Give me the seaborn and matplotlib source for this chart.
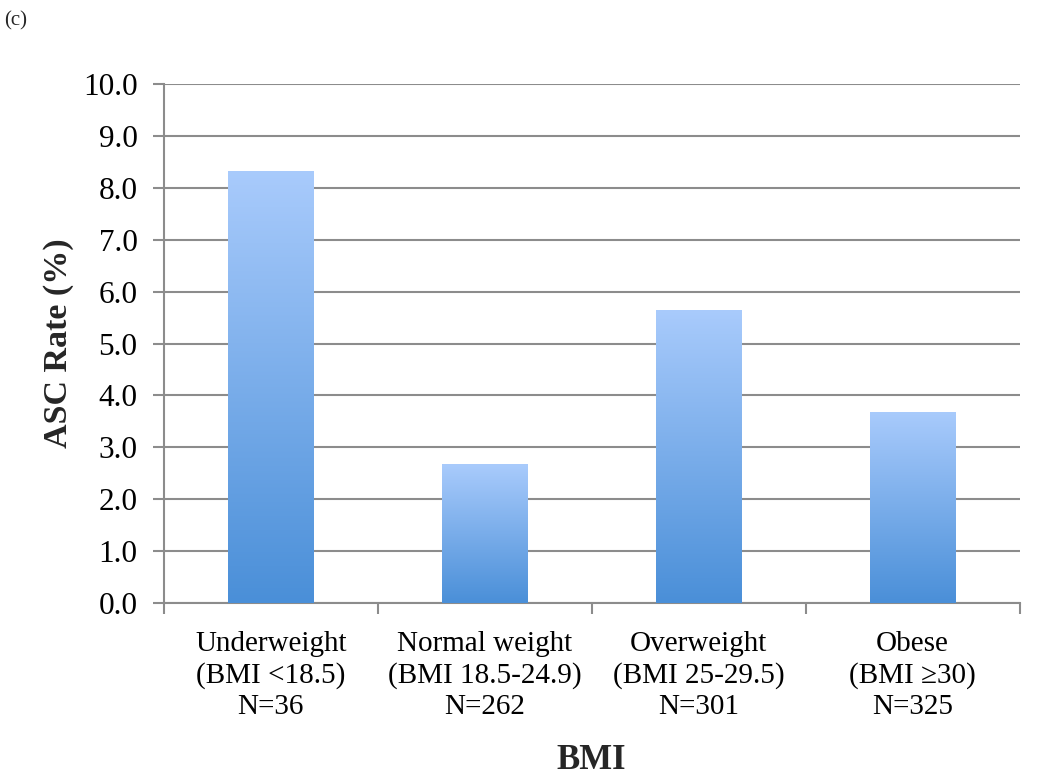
import numpy as np
import pandas as pd
import seaborn as sns
import matplotlib.pyplot as plt
from matplotlib.colors import LinearSegmentedColormap
from matplotlib.ticker import MultipleLocator, FixedLocator

# Chart data
categories = ["Underweight", "Normal weight", "Overweight", "Obese"]
ranges = ["(BMI <18.5)", "(BMI 18.5-24.9)", "(BMI 25-29.5)", "(BMI \u226530)"]
counts = [36, 262, 301, 325]
asc_rate = [8.33, 2.67, 5.65, 3.69]

tick_labels = [f"{c}\n{r}\nN={n}" for c, r, n in zip(categories, ranges, counts)]
df = pd.DataFrame({"group": tick_labels, "rate": asc_rate})

sns.set_theme(style="white")
plt.rcParams["font.family"] = ["Liberation Serif", "DejaVu Serif"]

fig = plt.figure(figsize=(10.5, 7.79), dpi=100)
ax = fig.add_axes([0.156, 0.226, 0.815, 0.666])

sns.barplot(data=df, x="group", y="rate", width=0.4, color="#6aa3e6",
            ax=ax, zorder=3)

# gradient fill in each bar: light blue at top, deeper blue at bottom
grad_cmap = LinearSegmentedColormap.from_list("bar", ["#4a8fd8", "#a9cbfc"])
grad = np.linspace(0, 1, 256).reshape(-1, 1)
for patch in ax.patches:
    x0, y0 = patch.get_x(), patch.get_y()
    w, h = patch.get_width(), patch.get_height()
    img = ax.imshow(grad, cmap=grad_cmap, aspect="auto", origin="lower",
                    extent=[x0, x0 + w, y0, y0 + h], zorder=3)
    img.set_clip_path(patch)
    patch.set_alpha(0)

ax.set_xlim(-0.5, 3.5)
ax.set_ylim(0, 10)
ax.yaxis.set_major_locator(MultipleLocator(1))
ax.set_yticklabels([f"{v:.1f}" for v in ax.get_yticks()])
ax.grid(axis="y", color="#8c8c8c", linewidth=1.5, zorder=0)
ax.set_axisbelow(True)

for side in ["top", "right"]:
    ax.spines[side].set_visible(False)
for side in ["left", "bottom"]:
    ax.spines[side].set_color("#8c8c8c")
    ax.spines[side].set_linewidth(1.5)

ax.xaxis.set_minor_locator(FixedLocator([-0.5, 0.5, 1.5, 2.5, 3.5]))
ax.tick_params(axis="x", which="major", length=0, pad=20, labelsize=21,
               colors="black")
ax.tick_params(axis="x", which="minor", length=8, width=1.5, color="#8c8c8c",
               direction="out", bottom=True)
ax.tick_params(axis="y", length=8, width=1.5, color="#8c8c8c",
               direction="out", left=True, labelsize=22.5, pad=11,
               labelcolor="black")
for lbl in ax.get_xticklabels():
    lbl.set_linespacing(1.25)

ax.set_xlabel("BMI", fontsize=25, fontweight="bold")
ax.set_ylabel("ASC Rate (%)", fontsize=24.5, fontweight="bold")
ax.xaxis.set_label_coords(0.5, -0.272)
ax.yaxis.set_label_coords(-0.105, 0.5)

fig.text(0.004, 0.985, "(c)", fontsize=15, va="top", ha="left")

fig.savefig("out.png", dpi=100)
